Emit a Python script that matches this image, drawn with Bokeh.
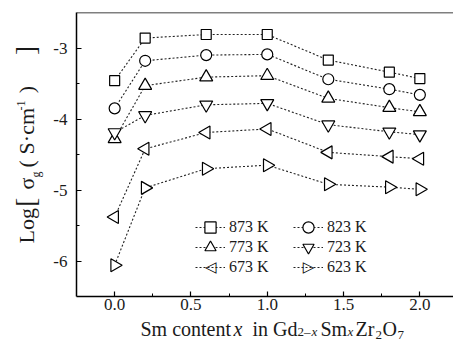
import math
from bokeh.plotting import figure
from bokeh.layouts import row, column
from bokeh.models import Legend, LegendItem, Label, Span, FixedTicker, Range1d
from bokeh.embed import file_html
from bokeh.resources import INLINE

# ---------------- data ----------------
sm_content = [0.0, 0.2, 0.6, 1.0, 1.4, 1.8, 2.0]
log_873 = [-3.46, -2.86, -2.81, -2.81, -3.17, -3.34, -3.43]
log_823 = [-3.85, -3.18, -3.10, -3.09, -3.44, -3.58, -3.66]
log_773 = [-4.28, -3.53, -3.41, -3.39, -3.71, -3.84, -3.90]
log_723 = [-4.19, -3.95, -3.80, -3.78, -4.08, -4.18, -4.22]
log_673 = [-5.38, -4.42, -4.19, -4.14, -4.47, -4.53, -4.56]
log_623 = [-6.06, -4.97, -4.70, -4.65, -4.92, -4.96, -4.99]
series_labels = ["873 K", "823 K", "773 K", "723 K", "673 K", "623 K"]
x_ticks = [0.0, 0.5, 1.0, 1.5, 2.0]
x_tick_labels = ["0.0", "0.5", "1.0", "1.5", "2.0"]
x_minor = [0.25, 0.75, 1.25, 1.75]
y_ticks = [-6, -5, -4, -3]
y_tick_labels = ["-6", "-5", "-4", "-3"]
y_minor = [-5.5, -4.5, -3.5]

# ---------------- layout (window pixels) ----------------
W, H = 453, 345
LEFT_W = 45            # strip holding the y title
MAIN_H = 317           # main figure height
BOT_H = H - MAIN_H     # strip holding the x title
FL, FT, FB, FR = 76, 12, 296, 453
X0 = -0.25
PXX = 152.6
X1 = X0 + (FR - FL) / PXX
Y0, Y1 = -6.5, -2.5
PYY = (FB - FT) / (Y1 - Y0)
FONT = "Liberation Serif"
INK = "#1a1a1a"


def dx(px):
    return X0 + (px - FL) / PXX


def dy(py):
    return Y1 - (py - FT) / PYY


p = figure(width=W - LEFT_W, height=MAIN_H, x_range=Range1d(X0, X1),
           y_range=Range1d(Y0, Y1), output_backend="svg", toolbar_location=None,
           title_location=None,
           min_border_left=FL - LEFT_W, min_border_right=W - FR,
           min_border_top=FT, min_border_bottom=MAIN_H - FB)
p.grid.visible = False
p.outline_line_color = None
p.background_fill_color = "white"
p.border_fill_color = "white"

p.xaxis.ticker = FixedTicker(ticks=x_ticks, minor_ticks=x_minor)
p.yaxis.ticker = FixedTicker(ticks=y_ticks, minor_ticks=y_minor)
p.xaxis.major_label_overrides = {t: l for t, l in zip(x_ticks, x_tick_labels)}
p.yaxis.major_label_overrides = {t: l for t, l in zip(y_ticks, y_tick_labels)}
for ax in (p.xaxis[0], p.yaxis[0]):
    ax.axis_line_width = 1.5
    ax.axis_line_color = "black"
    ax.major_tick_in = 5
    ax.major_tick_out = 0
    ax.minor_tick_in = 3
    ax.minor_tick_out = 0
    ax.major_tick_line_width = 1.2
    ax.minor_tick_line_width = 1.0
    ax.major_label_text_font = FONT
    ax.major_label_text_font_size = "17px"
    ax.major_label_text_color = INK
p.xaxis.major_label_standoff = 2
p.yaxis.major_label_standoff = 9

p.add_layout(Span(location=Y1, dimension="width", line_color="black", line_width=1.5))

series = [log_873, log_823, log_773, log_723, log_673, log_623]
markers = [("square", 0.0, 10), ("circle", 0.0, 11), ("triangle", 0.0, 13),
           ("inverted_triangle", 0.0, 13), ("triangle", math.pi / 2, 13),
           ("triangle", -math.pi / 2, 13)]
# legend swatch symbol for markers the legend cannot rotate
rotated_symbols = {4: "\u25c1", 5: "\u25b7"}
items = []
for i, (ys, (mk, ang, sz), lab) in enumerate(zip(series, markers, series_labels)):
    lr = p.line(sm_content, ys, line_dash="2 2", line_width=1.1, line_color="#222")
    sr = p.scatter(sm_content, ys, marker=mk, angle=ang, size=sz,
                   fill_color="white", line_color="black", line_width=1.2)
    rends = [lr] if i in rotated_symbols else [lr, sr]
    items.append(LegendItem(label=lab, renderers=rends))

# one legend per row (two entries each)
LEG_X = 195
GLYPH_W, ITEM_STEP = 30, 98
row_centers = [226.7, 246.7, 266.7]
for r, cy in enumerate(row_centers):
    lg = Legend(items=items[2 * r:2 * r + 2], orientation="horizontal",
                location=(LEG_X - FL, FB - (cy + 14)), glyph_width=GLYPH_W, glyph_height=28,
                label_height=28, label_width=60, label_standoff=4, spacing=4,
                padding=0, margin=0, border_line_color=None,
                background_fill_alpha=0,
                label_text_font=FONT, label_text_font_size="16px",
                label_text_color=INK)
    p.add_layout(lg, "center")
for i, sym in rotated_symbols.items():
    col = i % 2
    cy = row_centers[i // 2]
    cx = LEG_X + col * ITEM_STEP + GLYPH_W / 2
    p.add_layout(Label(x=dx(cx), y=dy(cy), text=sym, text_font="DejaVu Sans",
                       text_font_size="15px", text_color="black",
                       text_align="center", text_baseline="middle",
                       background_fill_color="white"))


def strip(w, h, x_range=None):
    f = figure(width=w, height=h, x_range=x_range or Range1d(0, w),
               y_range=Range1d(0, h), title_location=None,
               output_backend="svg", toolbar_location=None, min_border=0,
               x_axis_type=None, y_axis_type=None)
    f.outline_line_color = None
    f.grid.visible = False
    f.background_fill_color = "white"
    f.border_fill_color = "white"
    return f


# x-axis title: Sm content x in Gd(2-x)Sm(x)Zr(2)O(7)
# (this strip's frame lines up with the main frame, so it shares its x range)
bottom = strip(W - LEFT_W, BOT_H, x_range=p.x_range)
XB = 335
DESC = 0.216
xlabel_pieces = [
    ("Sm content", 140, XB, 20, "normal"),
    ("x", 233, XB, 20, "italic"),
    ("in Gd", 252, XB, 20, "normal"),
    ("2\u2013", 297, XB + 1, 13, "normal"),
    ("x", 311, XB + 1, 13, "italic"),
    ("Sm", 320, XB, 20, "normal"),
    ("x", 347, XB + 1, 13, "italic"),
    ("Zr", 355, XB, 20, "normal"),
    ("2", 375, XB + 1, 13, "normal"),
    ("O", 382, XB, 20, "normal"),
    ("7", 397, XB + 1, 13, "normal"),
]
for txt, px, py, fs, st in xlabel_pieces:
    bottom.add_layout(Label(x=dx(px), y=H - (py + DESC * fs), text=txt, text_font=FONT,
                            text_font_size=f"{fs}px", text_font_style=st, text_color=INK,
                            text_align="left", text_baseline="bottom"))

# y-axis title (rotated, centred pieces): Log[sigma_g (S.cm^-1)]
left = strip(LEFT_W, H)
MID = 0.3375
YBX = 33
ylabel_pieces = [
    ("Log", 225.3, YBX, 22),
    ("[", 201.7, YBX + 2, 27),
    ("\u03c3", 183.0, YBX, 22),
    ("g", 174.0, YBX + 7, 12),
    ("(", 163.3, YBX, 22),
    ("S\u00b7cm", 130.7, YBX, 22),
    ("-1", 105.0, YBX - 8, 12),
    (")", 89.0, YBX, 22),
    ("]", 50.0, YBX + 2, 27),
]
for txt, py, bx, fs in ylabel_pieces:
    left.add_layout(Label(x=bx - MID * fs, y=H - py, text=txt, text_font=FONT,
                          text_font_size=f"{fs}px", text_color=INK, angle=math.pi / 2,
                          text_align="center", text_baseline="middle"))

layout = row(left, column(p, bottom, spacing=0), spacing=0)
open("out.html", "w").write(file_html(layout, INLINE))
